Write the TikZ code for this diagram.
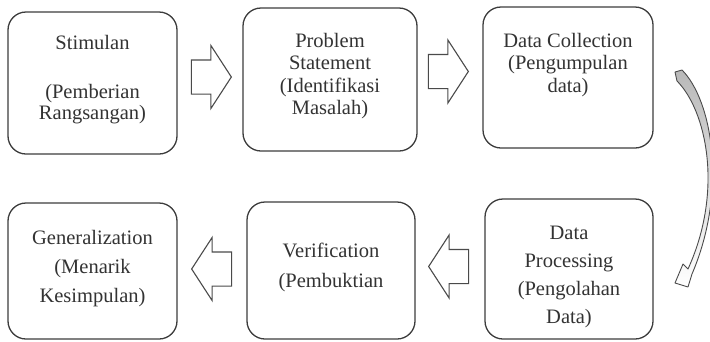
\documentclass[tikz,border=0pt]{standalone}
\usepackage{fontspec}
\setmainfont{Liberation Serif}
\usetikzlibrary{shapes.arrows}
\definecolor{boxc}{HTML}{3C3C3C}
\definecolor{arrc}{HTML}{4A4A4A}
\definecolor{txtc}{HTML}{333333}
\tikzset{
  box/.style={draw=boxc, line width=1.3pt, rounded corners=18pt, fill=white, inner sep=0pt},
  txt/.style={align=center, text=txtc, inner sep=0pt},
  barrow/.style={single arrow, draw=arrc, fill=white, line width=1.1pt,
    text height=16.5pt, text depth=16.5pt, text width=0pt,
    minimum height=40pt, single arrow head extend=14.5pt,
    single arrow tip angle=114, inner sep=0pt, anchor=tip},
}
\begin{document}
\begin{tikzpicture}[x=1pt,y=-1pt]
\useasboundingbox (0,0) rectangle (710,341);
% boxes
\node[box, minimum width=169pt, minimum height=142pt] (b1) at (92.5,83) {};
\node[box, minimum width=174pt, minimum height=143pt] (b2) at (330,79.5) {};
\node[box, minimum width=170pt, minimum height=141pt] (b3) at (568,77.5) {};
\node[box, minimum width=169pt, minimum height=136pt] (b4) at (92.5,271) {};
\node[box, minimum width=168pt, minimum height=137pt] (b5) at (331,270.5) {};
\node[box, minimum width=168pt, minimum height=140pt] (b6) at (569,269) {};
% texts
\node[txt, font=\fontsize{20.5}{21}\selectfont] (t1) at (92.5,80) {Stimulan\\[28pt](Pemberian\\Rangsangan)};
\node[txt, font=\fontsize{20.5}{22.3}\selectfont] (t2) at (330,76) {Problem\\Statement\\(Identifikasi\\Masalah)};
\node[txt, font=\fontsize{20.5}{22.5}\selectfont] (t3) at (568,65) {Data Collection\\(Pengumpulan\\data)};
\node[txt, font=\fontsize{20.5}{29}\selectfont] (t4) at (92.5,269) {Generalization\\(Menarik\\Kesimpulan)};
\node[txt, font=\fontsize{20.5}{30}\selectfont] (t5) at (331,267) {Verification\\(Pembuktian};
\node[txt, font=\fontsize{20.5}{28.3}\selectfont] (t6) at (569,277) {Data\\Processing\\(Pengolahan\\Data)};
% block arrows
\node[barrow] (a1) at (232,77) {};
\node[barrow] (a2) at (469,71.5) {};
\node[barrow, shape border rotate=180] (a3) at (428,266.5) {};
\node[barrow, shape border rotate=180] (a4) at (191,269) {};
% curved arrow from b3 to b6
\path[draw=arrc, line width=0.9pt, line join=round, top color=gray!55, bottom color=white]
  (675,72) -- (682,70)
  .. controls (712,100) and (728,190) .. (692,274)
  -- (688,287) -- (675,283) -- (683,264) -- (688,269)
  .. controls (724,190) and (706,110) .. (677,81) -- cycle;
\end{tikzpicture}
\end{document}
